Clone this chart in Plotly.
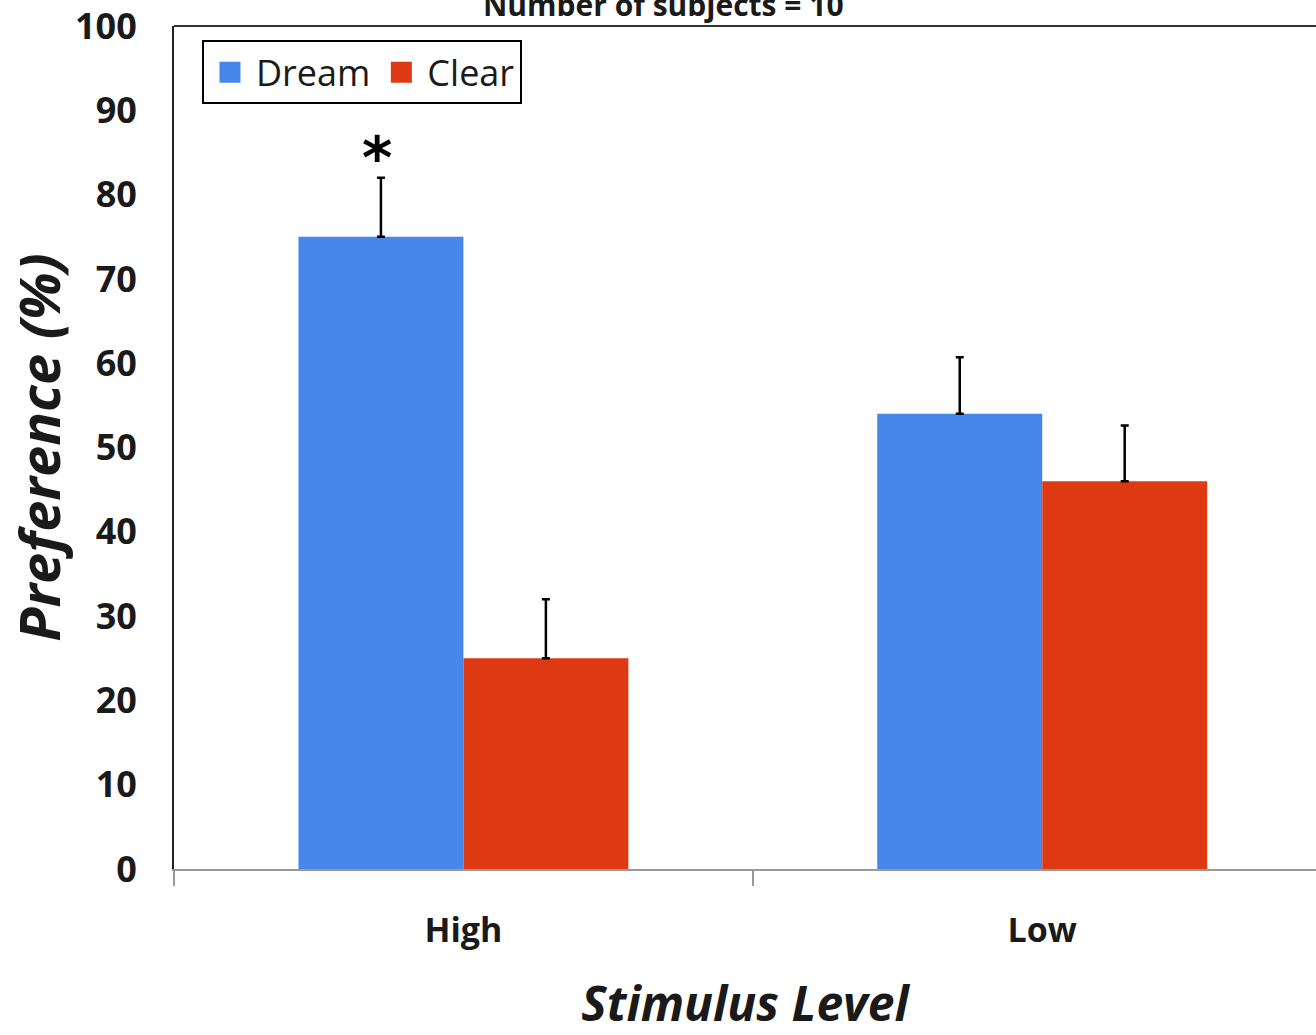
import plotly.graph_objects as go

# ---- data ----
categories = ["High", "Low"]
dream = [75, 54]
clear = [25, 46]
dream_err = [7, 6.7]
clear_err = [7, 6.6]
y_ticks = [0, 10, 20, 30, 40, 50, 60, 70, 80, 90, 100]
series_names = ["Dream", "Clear"]
title_text = "Number of subjects = 10"
sig_label = "*"

BLUE = "#4786EB"
RED = "#DD3A14"
FONT = "Open Sans"
TXT = "#1a1a1a"

fig = go.Figure()
for name, vals, errs, col in [(series_names[0], dream, dream_err, BLUE),
                              (series_names[1], clear, clear_err, RED)]:
    fig.add_bar(
        name=name, x=categories, y=vals, showlegend=False,
        marker=dict(color=col, line=dict(width=0)),
        error_y=dict(type="data", array=errs, arrayminus=[0] * len(errs),
                     symmetric=False, color="black", thickness=2.5, width=4),
    )
# legend entries with larger square swatches
for name, col in [(series_names[0], BLUE), (series_names[1], RED)]:
    fig.add_scatter(x=[None], y=[None], mode="markers", name=name,
                    marker=dict(symbol="square", size=16, color=col,
                                line=dict(color=col, width=5)))

fig.add_annotation(x=-0.1425, y=dream[0] + dream_err[0], xref="x", yref="y",
                   text=sig_label, showarrow=False, yanchor="bottom",
                   yshift=-16, xshift=-4,
                   font=dict(family="DejaVu Sans", size=58, color="black", weight="bold"))

fig.add_shape(type="line", xref="paper", yref="paper", x0=0, x1=1, y0=1, y1=1,
              line=dict(color="#333333", width=2))

fig.update_layout(
    width=1316, height=1035,
    margin=dict(l=174, r=0, t=26, b=166, pad=0),
    paper_bgcolor="white", plot_bgcolor="white",
    barmode="group", bargap=0.43, bargroupgap=0,
    font=dict(family=FONT, color=TXT),
    title=dict(text=title_text, x=0.504, xref="container", xanchor="center",
               y=0.995, yref="container", yanchor="middle",
               font=dict(family=FONT, size=30, weight="bold", color=TXT)),
    legend=dict(x=0.0245, y=0.983, xanchor="left", yanchor="top",
                orientation="h", bordercolor="black", borderwidth=2,
                bgcolor="white", font=dict(family=FONT, size=36, color=TXT),
                itemwidth=42),
    xaxis=dict(type="category", range=[-0.5, 1.473], tickson="boundaries",
               ticks="outside", ticklen=15, tickwidth=2, tickcolor="#999999",
               showline=True, linecolor="#999999", linewidth=2,
               showgrid=False, zeroline=False,
               tickfont=dict(family=FONT, size=34, weight="bold", color=TXT),
               ticklabelstandoff=30,
               title=dict(text="Stimulus Level", standoff=46,
                          font=dict(family=FONT, size=48, weight="bold",
                                    style="italic", color=TXT))),
    yaxis=dict(range=[0, 100], tickvals=y_ticks, ticks="",
               showline=True, linecolor="#222222", linewidth=2,
               showgrid=False, zeroline=False,
               tickfont=dict(family=FONT, size=36, weight="bold", color=TXT),
               ticklabelstandoff=28,
               title=dict(text="Preference (%)", standoff=26,
                          font=dict(family=FONT, size=56, weight="bold",
                                    style="italic", color=TXT))),
)

fig.write_html("out.html", config={"displayModeBar": False},
               post_script="document.body.style.margin='0';document.body.style.overflow='hidden';")
